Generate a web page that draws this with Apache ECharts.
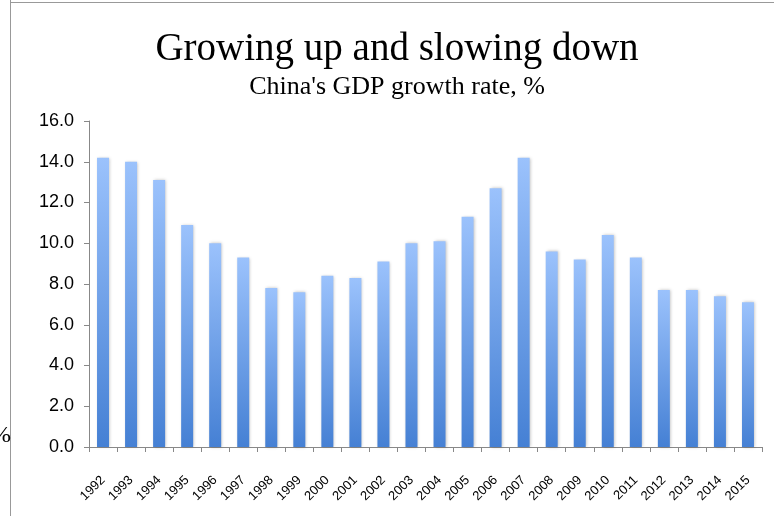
<!DOCTYPE html>
<html>
<head>
<meta charset="utf-8">
<title>Growing up and slowing down</title>
<script src="https://cdn.jsdelivr.net/npm/echarts@6/dist/echarts.min.js"></script>
<style>
  html, body { margin: 0; padding: 0; background: #fff; }
  #chart { width: 774px; height: 516px; }
</style>
</head>
<body>
<div id="chart"></div>
<script>
// 年份 & GDP 增速 (%)
const years = ['1992', '1993', '1994', '1995', '1996', '1997', '1998', '1999',
  '2000', '2001', '2002', '2003', '2004', '2005', '2006', '2007',
  '2008', '2009', '2010', '2011', '2012', '2013', '2014', '2015']
const gdpGrowth = [14.2, 14.0, 13.1, 10.9, 10.0, 9.3, 7.8, 7.6,
  8.4, 8.3, 9.1, 10.0, 10.1, 11.3, 12.7, 14.2,
  9.6, 9.2, 10.4, 9.3, 7.7, 7.7, 7.4, 7.1]

const titleText = 'Growing up and slowing down'
const subtitleText = "China's GDP growth rate, %"

const chart = echarts.init(document.getElementById('chart'))

chart.setOption({
  animation: false,
  title: {
    text: titleText,
    subtext: subtitleText,
    left: 392,
    top: 25,
    textAlign: 'center',
    itemGap: 5,
    textStyle: { fontFamily: 'Liberation Serif', fontSize: 39, fontWeight: 'normal', color: '#000' },
    subtextStyle: { fontFamily: 'Liberation Serif', fontSize: 26, color: '#000' }
  },
  grid: { left: 89, right: 12, top: 121, bottom: 69 },
  xAxis: {
    type: 'category',
    data: years,
    boundaryGap: true,
    axisLine: { lineStyle: { color: '#888', width: 1 } },
    axisTick: { show: true, alignWithLabel: false, length: 5, lineStyle: { color: '#888' } },
    axisLabel: { rotate: 45, fontFamily: 'Liberation Sans', fontSize: 13, color: '#000', margin: 31 }
  },
  yAxis: {
    type: 'value',
    min: 0,
    max: 16,
    interval: 2,
    axisLine: { show: true, lineStyle: { color: '#888', width: 1 } },
    axisTick: { show: true, length: 5, lineStyle: { color: '#888' } },
    splitLine: { show: false },
    axisLabel: {
      fontFamily: 'Liberation Sans', fontSize: 18, color: '#000', margin: 15,
      formatter: v => v.toFixed(1)
    }
  },
  series: [{
    type: 'bar',
    data: gdpGrowth,
    barWidth: 12,
    itemStyle: {
      color: new echarts.graphic.LinearGradient(0, 0, 0, 1, [
        { offset: 0, color: '#9bc2fc' },
        { offset: 1, color: '#4580d4' }
      ]),
      shadowBlur: 3,
      shadowColor: 'rgba(0,0,0,0.25)',
      shadowOffsetX: 1
    }
  }],
  graphic: [
    // 外框
    { type: 'line', shape: { x1: 10.5, y1: 0, x2: 10.5, y2: 516 }, style: { stroke: '#999', lineWidth: 1 } },
    { type: 'line', shape: { x1: 10, y1: 2.5, x2: 774, y2: 2.5 }, style: { stroke: '#999', lineWidth: 1 } },
    // 被裁掉的 y 轴单位
    { type: 'text', left: -9, top: 424, style: { text: '%', fontFamily: 'Liberation Serif', fontSize: 24, fill: '#000' } }
  ]
})
</script>
</body>
</html>
